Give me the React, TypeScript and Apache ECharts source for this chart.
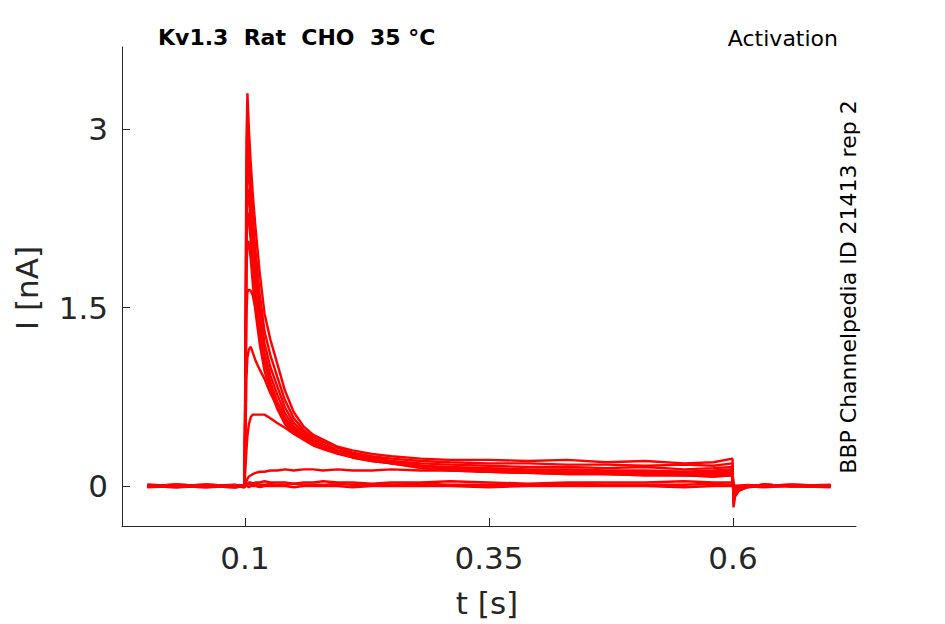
import React, { useEffect, useRef } from "react";
import * as echarts from "echarts";

// time grid [s]
const T = [0, 0.03, 0.06, 0.09, 0.0995, 0.1005, 0.1015, 0.1025, 0.104, 0.106, 0.108, 0.111, 0.115, 0.12, 0.126, 0.133, 0.141, 0.15, 0.16, 0.17, 0.18, 0.195, 0.21, 0.23, 0.25, 0.28, 0.31, 0.35, 0.39, 0.43, 0.47, 0.51, 0.55, 0.58, 0.5995, 0.6005, 0.602, 0.606, 0.615, 0.63, 0.66, 0.7];

// current traces [nA]
const I1 = [0, -0.01, 0.01, 0, 0.01, 1.2, 2.9, 3.3, 3.0, 2.7, 2.45, 2.15, 1.8, 1.45, 1.23, 1.03, 0.8, 0.62, 0.5, 0.43, 0.39, 0.33, 0.3, 0.27, 0.25, 0.23, 0.22, 0.22, 0.21, 0.22, 0.2, 0.21, 0.19, 0.2, 0.23, -0.18, -0.09, -0.04, -0.01, 0, 0.01, 0];
const I2 = [0.01, 0, -0.01, 0.01, 0, 1.0, 2.6, 3.0, 2.8, 2.5, 2.25, 1.95, 1.62, 1.3, 1.1, 0.92, 0.72, 0.57, 0.47, 0.41, 0.37, 0.32, 0.28, 0.25, 0.23, 0.21, 0.2, 0.19, 0.19, 0.18, 0.18, 0.17, 0.18, 0.17, 0.19, -0.15, -0.08, -0.03, -0.01, 0.01, 0, 0.01];
const I3 = [0, 0.01, 0, -0.01, 0, 0.9, 2.4, 2.75, 2.6, 2.35, 2.1, 1.8, 1.5, 1.2, 1.0, 0.84, 0.66, 0.53, 0.45, 0.39, 0.35, 0.3, 0.27, 0.24, 0.21, 0.19, 0.18, 0.17, 0.16, 0.16, 0.15, 0.16, 0.14, 0.15, 0.16, -0.13, -0.06, -0.02, 0, 0.01, 0, 0];
const I4 = [0, 0, 0.01, 0, -0.01, 0.8, 2.2, 2.5, 2.42, 2.2, 1.97, 1.7, 1.4, 1.12, 0.93, 0.77, 0.61, 0.5, 0.43, 0.37, 0.33, 0.29, 0.25, 0.22, 0.2, 0.17, 0.16, 0.15, 0.14, 0.14, 0.13, 0.13, 0.12, 0.13, 0.14, -0.11, -0.05, -0.02, 0, 0, 0.01, 0];
const I5 = [0.01, 0, 0, 0.01, 0, 0.75, 2.0, 2.3, 2.25, 2.05, 1.83, 1.58, 1.3, 1.05, 0.87, 0.71, 0.57, 0.47, 0.41, 0.36, 0.32, 0.28, 0.24, 0.21, 0.19, 0.16, 0.15, 0.14, 0.13, 0.12, 0.12, 0.11, 0.12, 0.11, 0.12, -0.09, -0.04, -0.01, 0, 0.01, 0, 0];
const I6 = [0, 0.01, 0, 0, 0.01, 0.7, 1.8, 2.05, 2.05, 1.9, 1.7, 1.45, 1.2, 0.97, 0.8, 0.65, 0.52, 0.44, 0.39, 0.34, 0.31, 0.27, 0.24, 0.21, 0.19, 0.15, 0.13, 0.12, 0.11, 0.11, 0.1, 0.1, 0.09, 0.1, 0.1, -0.07, -0.03, -0.01, 0, 0, 0.01, 0];
const I7 = [0, 0, -0.01, 0, 0, 0.6, 1.45, 1.63, 1.65, 1.64, 1.6, 1.48, 1.28, 1.05, 0.85, 0.68, 0.55, 0.46, 0.4, 0.35, 0.32, 0.28, 0.25, 0.22, 0.19, 0.16, 0.14, 0.12, 0.11, 0.1, 0.1, 0.09, 0.09, 0.08, 0.09, -0.06, -0.02, -0.01, 0, 0.01, 0, 0];
const I8 = [0, 0.01, 0, -0.01, 0, 0.4, 0.9, 1.08, 1.15, 1.17, 1.12, 1.05, 0.98, 0.9, 0.78, 0.67, 0.57, 0.48, 0.42, 0.37, 0.33, 0.28, 0.25, 0.22, 0.2, 0.17, 0.15, 0.14, 0.13, 0.12, 0.12, 0.11, 0.11, 0.1, 0.11, -0.05, -0.02, 0, 0, 0.01, 0, 0];
const I9 = [0, 0, 0.01, 0, 0, 0.15, 0.3, 0.42, 0.52, 0.58, 0.6, 0.6, 0.6, 0.6, 0.57, 0.53, 0.49, 0.44, 0.4, 0.36, 0.33, 0.29, 0.26, 0.22, 0.2, 0.17, 0.14, 0.12, 0.11, 0.1, 0.1, 0.09, 0.09, 0.08, 0.09, -0.03, -0.01, 0, 0, 0.01, 0, 0];
const I10 = [0, 0.01, 0, 0, 0, 0.02, 0.04, 0.06, 0.08, 0.09, 0.1, 0.11, 0.12, 0.12, 0.13, 0.13, 0.14, 0.13, 0.14, 0.14, 0.13, 0.14, 0.13, 0.13, 0.14, 0.13, 0.13, 0.12, 0.13, 0.12, 0.12, 0.12, 0.11, 0.12, 0.12, -0.02, 0, 0, 0.01, 0, 0, 0];
const I11 = [0, 0, 0.01, 0, 0, 0.01, 0.02, 0.02, 0.03, 0.03, 0.02, 0.03, 0.03, 0.04, 0.03, 0.03, 0.03, 0.02, 0.03, 0.03, 0.04, 0.03, 0.03, 0.02, 0.03, 0.03, 0.04, 0.03, 0.02, 0.03, 0.03, 0.03, 0.04, 0.03, 0.03, -0.01, 0, 0, 0, 0.01, 0, 0];
const I12 = [-0.01, 0, 0, -0.01, 0, 0.01, 0.01, 0.01, 0.02, 0.01, 0.01, 0.02, 0.01, 0.01, 0.02, 0.01, 0.01, 0.02, 0.01, 0.01, 0.01, 0.02, 0.01, 0.01, 0.01, 0.02, 0.01, 0.01, 0.01, 0.02, 0.01, 0.01, 0.01, 0.02, 0.01, 0, 0, -0.01, 0, 0, 0, -0.01];
const I13 = [0, -0.01, 0, 0, -0.01, 0, 0, 0, -0.01, 0, 0, 0, -0.01, 0, 0, 0, 0, -0.01, 0, 0, 0, 0, -0.01, 0, 0, 0, 0, -0.01, 0, 0, 0, 0, -0.01, 0, 0, 0, 0, 0, 0, -0.01, 0, 0];
const TRACES = [I1, I2, I3, I4, I5, I6, I7, I8, I9, I10, I11, I12, I13];

const X_TICKS = [0.1, 0.35, 0.6];
const Y_TICKS = [0, 1.5, 3];

const TITLE = "Kv1.3  Rat  CHO  35 °C";
const SUBTITLE = "Activation";
const SIDE_NOTE = "BBP Channelpedia ID 21413 rep 2";
const X_NAME = "t [s]";
const Y_NAME = "I [nA]";

const FONT = "DejaVu Sans";
const INK = "#262626";

export default function App() {
  const ref = useRef<HTMLDivElement>(null);
  useEffect(() => {
    document.body.style.margin = "0";
    const chart = echarts.init(ref.current!, null, { renderer: "svg" });
    const series = TRACES.map((tr, k) => ({
      type: "line",
      name: "trace" + (k + 1),
      data: T.map((t, i) => [t, tr[i]]),
      showSymbol: false,
      symbol: "none",
      lineStyle: { color: "#ff0000", width: 2.4 },
      itemStyle: { color: "#ff0000" },
      silent: true,
    }));
    chart.setOption({
      animation: false,
      grid: { left: 122, top: 47, width: 734, height: 479, containLabel: false },
      xAxis: {
        type: "value",
        min: -0.026,
        max: 0.726,
        axisLine: { onZero: false, lineStyle: { color: INK, width: 1 } },
        axisTick: { inside: true, length: 8, customValues: X_TICKS, lineStyle: { color: INK } },
        axisLabel: { customValues: X_TICKS, color: INK, fontSize: 31, fontFamily: FONT, margin: 16 },
        splitLine: { show: false },
      },
      yAxis: {
        type: "value",
        min: -0.336,
        max: 3.689,
        axisLine: { show: true, onZero: false, lineStyle: { color: INK, width: 1 } },
        axisTick: { show: true, inside: true, length: 8, customValues: Y_TICKS, lineStyle: { color: INK } },
        axisLabel: { customValues: Y_TICKS, color: INK, fontSize: 31, fontFamily: FONT, margin: 14 },
        splitLine: { show: false },
      },
      graphic: [
        { type: "text", left: 158, top: 26, style: { text: TITLE, fill: "#000", font: `bold 22px '${FONT}'` } },
        { type: "text", x: 838, y: 38, style: { text: SUBTITLE, fill: "#000", font: `22px '${FONT}'`, align: "right", verticalAlign: "middle" } },
        { type: "text", x: 848, y: 287, rotation: Math.PI / 2, style: { text: SIDE_NOTE, fill: "#000", font: `22px '${FONT}'`, align: "center", verticalAlign: "middle" } },
        { type: "text", x: 487, y: 603, style: { text: X_NAME, fill: INK, font: `31px '${FONT}'`, align: "center", verticalAlign: "middle" } },
        { type: "text", x: 27, y: 288, rotation: Math.PI / 2, style: { text: Y_NAME, fill: INK, font: `31px '${FONT}'`, align: "center", verticalAlign: "middle" } },
      ],
      series,
    });
    return () => chart.dispose();
  }, []);
  return <div ref={ref} style={{ position: "fixed", left: 0, top: 0, width: 945, height: 624, background: "#fff" }} />;
}
